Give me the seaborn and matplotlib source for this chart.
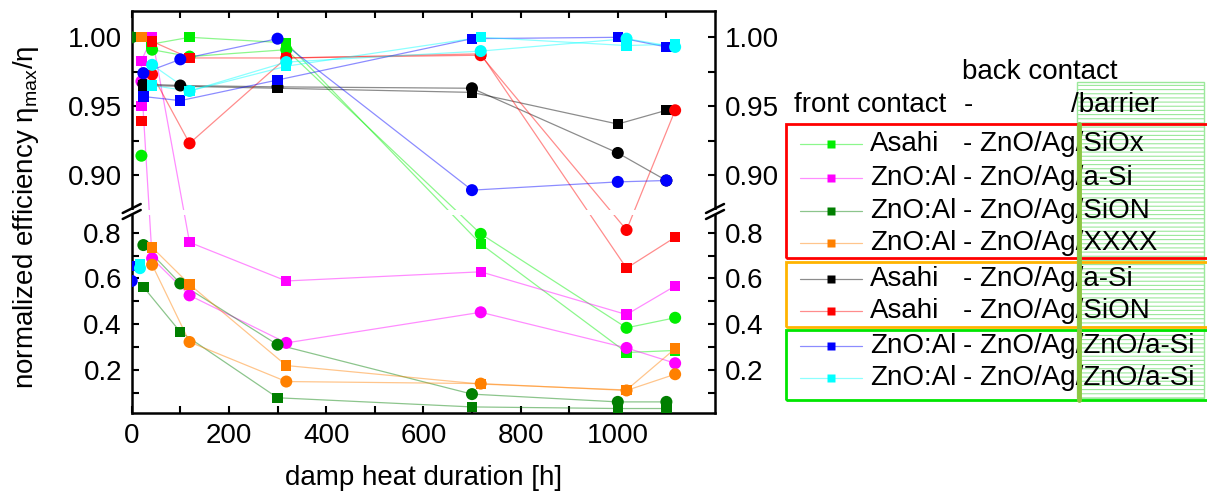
import matplotlib
matplotlib.use('Agg')
import numpy as np
import matplotlib.pyplot as plt
from matplotlib.ticker import FixedLocator, FuncFormatter
from matplotlib.lines import Line2D
from matplotlib.patches import Rectangle
import seaborn as sns

# ---- data (x = damp heat hours, y = normalized efficiency) ----
siox_sq_x = [40, 119, 318, 718, 1018, 1118]
siox_sq_y = [0.995, 1.000, 0.996, 0.751, 0.276, 0.285]
siox_ci_x = [20, 42, 119, 318, 718, 1018, 1118]
siox_ci_y = [0.914, 0.991, 0.986, 0.991, 0.795, 0.384, 0.428]

asi_sq_x = [20, 20, 42, 119, 318, 718, 1018, 1118]
asi_sq_y = [0.950, 0.983, 1.000, 0.758, 0.589, 0.629, 0.442, 0.567]
asi_ci_x = [20, 42, 119, 318, 718, 1018, 1118]
asi_ci_y = [0.968, 0.688, 0.526, 0.318, 0.452, 0.296, 0.229]

sion_sq_x = [0, 24, 100, 300, 700, 1000, 1100]
sion_sq_y = [1.000, 0.563, 0.366, 0.078, 0.038, 0.031, 0.031]
sion_ci_x = [0, 24, 100, 300, 700, 1000, 1100]
sion_ci_y = [1.000, 0.746, 0.578, 0.310, 0.094, 0.060, 0.060]

xxxx_sq_x = [20, 42, 119, 318, 718, 1018, 1118]
xxxx_sq_y = [1.000, 0.736, 0.574, 0.219, 0.138, 0.112, 0.293]
xxxx_ci_x = [42, 119, 318, 718, 1018, 1118]
xxxx_ci_y = [0.660, 0.322, 0.149, 0.140, 0.110, 0.181]

asahi_asi_sq_x = [24, 300, 700, 1000, 1100]
asahi_asi_sq_y = [0.965, 0.963, 0.960, 0.937, 0.947]
asahi_asi_ci_x = [24, 100, 300, 700, 1000, 1100]
asahi_asi_ci_y = [0.966, 0.965, 0.964, 0.963, 0.916, 0.896]

asahi_sion_sq_x = [20, 42, 119, 318, 718, 1018, 1118]
asahi_sion_sq_y = [0.939, 0.997, 0.985, 0.985, 0.988, 0.645, 0.780]
asahi_sion_ci_x = [42, 119, 318, 718, 1018, 1118]
asahi_sion_ci_y = [0.973, 0.923, 0.985, 0.987, 0.812, 0.947]

zno1_sq_x = [0, 24, 100, 300, 700, 1000, 1100]
zno1_sq_y = [0.655, 0.957, 0.954, 0.969, 0.999, 1.000, 0.993]
zno1_ci_x = [0, 24, 100, 300, 700, 1000, 1100]
zno1_ci_y = [0.589, 0.974, 0.984, 0.999, 0.889, 0.895, 0.896]

zno2_sq_x = [17, 42, 119, 318, 718, 1018, 1118]
zno2_sq_y = [0.663, 0.965, 0.961, 0.979, 1.000, 0.994, 0.995]
zno2_ci_x = [17, 42, 119, 318, 718, 1018, 1118]
zno2_ci_y = [0.645, 0.980, 0.961, 0.982, 0.990, 0.999, 0.993]

# leading points of each series that are not joined by the line (initial measurements)
skip_sq = [0, 0, 1, 1, 0, 1, 1, 1]
skip_ci = [1, 0, 1, 0, 0, 0, 1, 1]

front = ['Asahi', 'ZnO:Al', 'ZnO:Al', 'ZnO:Al', 'Asahi', 'Asahi', 'ZnO:Al', 'ZnO:Al']
barrier = ['SiOx', 'a-Si', 'SiON', 'XXXX', 'a-Si', 'SiON', 'ZnO/a-Si', 'ZnO/a-Si']
colors = ['#00ee00', '#ff00ff', '#007f00', '#ff8000', '#000000', '#ff0000', '#0000ff', '#00ffff']

y_major = [0.2, 0.4, 0.6, 0.8, 0.90, 0.95, 1.00]
y_minor = [0.1, 0.3, 0.5, 0.7, 0.925, 0.975]
x_major = [0, 200, 400, 600, 800, 1000]
x_minor = [100, 300, 500, 700, 900, 1100]

series = [
    (siox_sq_x, siox_sq_y, siox_ci_x, siox_ci_y),
    (asi_sq_x, asi_sq_y, asi_ci_x, asi_ci_y),
    (sion_sq_x, sion_sq_y, sion_ci_x, sion_ci_y),
    (xxxx_sq_x, xxxx_sq_y, xxxx_ci_x, xxxx_ci_y),
    (asahi_asi_sq_x, asahi_asi_sq_y, asahi_asi_ci_x, asahi_asi_ci_y),
    (asahi_sion_sq_x, asahi_sion_sq_y, asahi_sion_ci_x, asahi_sion_ci_y),
    (zno1_sq_x, zno1_sq_y, zno1_ci_x, zno1_ci_y),
    (zno2_sq_x, zno2_sq_y, zno2_ci_x, zno2_ci_y),
]

sns.set_style('ticks')
plt.rcParams['font.family'] = ['Liberation Sans', 'DejaVu Sans']
plt.rcParams['mathtext.fontset'] = 'custom'
plt.rcParams['mathtext.rm'] = 'Liberation Sans'
plt.rcParams['hatch.linewidth'] = 0.8
for k in ('text.color', 'axes.labelcolor', 'xtick.color', 'ytick.color', 'axes.edgecolor'):
    plt.rcParams[k] = 'black'
FS = 20

W, H = 1207, 496
fig = plt.figure(figsize=(W / 100, H / 100), dpi=100)


def fx(px):
    return px / W


def fy(py):
    return 1 - py / H


# broken y axis: two linear pieces, lower 0..0.875 and stretched upper 0.875..1.02
VB = 0.8753


def fwd(v):
    v = np.asarray(v, float)
    return np.where(v <= VB, 80.4 + 228.6 * v, 1377 * v - 918.3)


def inv(t):
    t = np.asarray(t, float)
    lo = (t - 80.4) / 228.6
    hi = (t + 918.3) / 1377
    return np.where(t < 280.5, lo, np.where(t >= 287.0, hi, VB))


L, R, T, B = 131.7, 715, 11, 413
ax = fig.add_axes([fx(L), fy(B), fx(R) - fx(L), fy(T) - fy(B)])

for (sx, sy, cx, cy), c, ks, kc in zip(series, colors, skip_sq, skip_ci):
    sns.lineplot(x=sx[ks:], y=sy[ks:], ax=ax, color=c, lw=0.9, alpha=0.45,
                 estimator=None, sort=False, legend=False)
    sns.lineplot(x=cx[kc:], y=cy[kc:], ax=ax, color=c, lw=0.9, alpha=0.45,
                 estimator=None, sort=False, legend=False)
for (sx, sy, cx, cy), c in zip(series, colors):
    sns.scatterplot(x=sx, y=sy, ax=ax, color=c, marker='s', s=55,
                    edgecolor='none', legend=False, zorder=3)
    sns.scatterplot(x=cx, y=cy, ax=ax, color=c, marker='o', s=75,
                    edgecolor='none', legend=False, zorder=3)

ax.set_yscale('function', functions=(fwd, inv))
ax.set_xlim(0, 1200)
ax.set_ylim(0.0114, 1.0191)
ax.set_ylabel('')
ax.set_xlabel('damp heat duration [h]', fontsize=FS, labelpad=12)
ax.xaxis.set_major_locator(FixedLocator(x_major))
ax.xaxis.set_minor_locator(FixedLocator(x_minor))
ax.yaxis.set_major_locator(FixedLocator(y_major))
ax.yaxis.set_minor_locator(FixedLocator(y_minor))
ax.yaxis.set_major_formatter(FuncFormatter(lambda v, p: f'{v:.2f}' if v > 0.85 else f'{v:.1f}'))
for sp in ax.spines.values():
    sp.set_linewidth(1.8)
ax.tick_params(which='both', direction='in', length=5, width=1.5,
               left=True, right=True, top=True, bottom=True,
               labelleft=True, labelright=True, labelsize=FS, pad=7)

# white gap and break marks
fig.add_artist(Rectangle((fx(L - 5), fy(215)), fx(R + 5) - fx(L - 5), fy(209.5) - fy(215),
                         transform=fig.transFigure, facecolor='white', edgecolor='none', zorder=1))
for x0 in (L, R):
    for dy in (0, 6):
        fig.add_artist(Line2D([fx(x0 - 9), fx(x0 + 9)], [fy(213 + dy), fy(204 + dy)],
                              transform=fig.transFigure, color='k', lw=1.8, zorder=2))

fig.text(fx(26), fy(217), 'normalized efficiency η$_{\\mathrm{max}}$/η', rotation=90,
         ha='center', va='center', fontsize=FS)

# legend block drawn by hand
fig.add_artist(Rectangle((fx(1077), fy(398)), fx(1204) - fx(1077), fy(82) - fy(398),
                         transform=fig.transFigure, facecolor='none', edgecolor='#9be89b',
                         hatch='----', lw=1, zorder=1))
boxes = [(124, 258, '#ff0000'), (262, 327, '#ffb400'), (330, 400, '#00e600')]
for top, bot, ec in boxes:
    fig.add_artist(Rectangle((fx(786), fy(bot)), fx(1212) - fx(786), fy(top) - fy(bot),
                             transform=fig.transFigure, facecolor='none', edgecolor=ec,
                             lw=2, zorder=2))

fig.text(fx(962), fy(72), 'back contact', fontsize=FS, va='center')
fig.text(fx(794), fy(105), 'front contact', fontsize=FS, va='center')
fig.text(fx(964), fy(105), '-', fontsize=FS, va='center')
fig.text(fx(1071), fy(105), '/barrier', fontsize=FS, va='center')

rows = [144, 178, 211, 243, 279, 311, 346, 378]
for y, c, f, b in zip(rows, colors, front, barrier):
    fig.add_artist(Line2D([fx(800), fx(862)], [fy(y), fy(y)], transform=fig.transFigure,
                          color=c, lw=0.9, alpha=0.45, zorder=3))
    fig.add_artist(Line2D([fx(831)], [fy(y)], transform=fig.transFigure, color=c,
                          marker='s', ms=6, mec='none', zorder=3))
    fig.text(fx(870), fy(y), f, fontsize=FS, va='center', zorder=3)
    fig.text(fx(963), fy(y), '- ZnO/Ag/' + b, fontsize=FS, va='center', zorder=3)

fig.add_artist(Line2D([fx(1078.5), fx(1078.5)], [fy(124), fy(400)], transform=fig.transFigure,
                      color='#8dc540', lw=3.5, zorder=4))

fig.savefig('out.png', dpi=100)
